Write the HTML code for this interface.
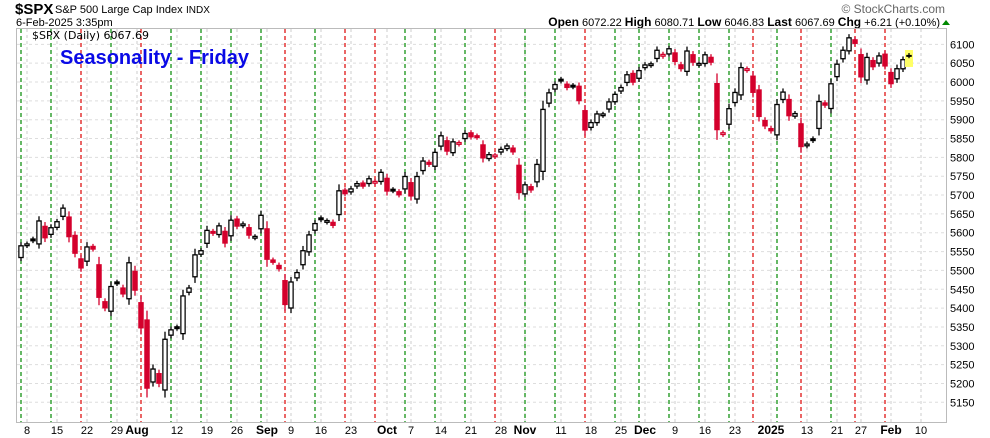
<!DOCTYPE html>
<html><head><meta charset="utf-8">
<style>
body{margin:0;background:#fff;width:990px;height:438px;overflow:hidden;font-family:"Liberation Sans",sans-serif}
svg{position:absolute;left:0;top:0}
</style></head><body>
<svg id="s" width="990" height="438" xmlns="http://www.w3.org/2000/svg" font-family="Liberation Sans, sans-serif">
<text x="15" y="14" font-size="15" font-weight="bold">$SPX</text>
<text x="55" y="13" font-size="11">S&amp;P 500 Large Cap Index</text>
<text x="186" y="13" font-size="10">INDX</text>
<text x="16" y="26" font-size="11">6-Feb-2025 3:35pm</text>
<text x="945" y="13" font-size="12" fill="#666" text-anchor="end">© StockCharts.com</text>
<text x="940" y="26" font-size="11" text-anchor="end"><tspan font-weight="bold" font-size="12">Open</tspan> 6072.22 <tspan font-weight="bold" font-size="12">High</tspan> 6080.71 <tspan font-weight="bold" font-size="12">Low</tspan> 6046.83 <tspan font-weight="bold" font-size="12">Last</tspan> 6067.69 <tspan font-weight="bold" font-size="12">Chg</tspan> +6.21 (+0.10%)</text>
<polygon points="942,25 946,20 950,25" fill="#080"/>
<rect x="16.5" y="28.5" width="930" height="394" fill="#fff" stroke="#bbb"/>
<g id="grid"></g><g id="c"></g>
<text x="32" y="39" font-size="11" font-family="DejaVu Sans, sans-serif">$SPX (Daily) 6067.69</text>
<text x="60" y="64" font-size="20" font-weight="bold" fill="#0a0ae6">Seasonality - Friday</text>
<g id="ax" font-size="11"></g>
</svg>
<script>
var NS="http://www.w3.org/2000/svg";
function el(p,t,a,txt){var e=document.createElementNS(NS,t);for(var k in a)e.setAttribute(k,a[k]);if(txt)e.textContent=txt;document.getElementById(p).appendChild(e);return e;}
function Y(p){return 402.3-(p-5150)*0.3768;}
for(var p=5150;p<=6100;p+=50){var y=Y(p);el('grid','line',{x1:17,x2:946,y1:y,y2:y,stroke:'#ddd','stroke-dasharray':'3,3'});el('ax','text',{x:950,y:y+4},String(p));}
var L=[[27,'8'],[57,'15'],[87,'22'],[117,'29'],[137,'Aug',1],[177,'12'],[207,'19'],[237,'26'],[267,'Sep',1],[291,'9'],[321,'16'],[351,'23'],[387,'Oct',1],[411,'7'],[441,'14'],[471,'21'],[501,'28'],[525,'Nov',1],[561,'11'],[591,'18'],[621,'25'],[645,'Dec',1],[675,'9'],[705,'16'],[735,'23'],[771,'2025',1],[807,'13'],[837,'21'],[861,'27'],[891,'Feb',1],[921,'10']];
L.forEach(function(l){var x=l[0],t=l[1];
 el('grid','line',{x1:x,x2:x,y1:29,y2:422,stroke:'#ccc','stroke-dasharray':'3,3'});
 el('ax','text',{x:x,y:434,'text-anchor':'middle','font-weight':l[2]?'bold':'normal','font-size':l[2]?12:11},t);});
var F=[[21,'g'],[51,'g'],[81,'r'],[111,'g'],[141,'r'],[171,'g'],[201,'g'],[231,'g'],[261,'g'],[285,'r'],[315,'g'],[345,'r'],[375,'r'],[405,'g'],[435,'g'],[465,'g'],[495,'r'],[525,'g'],[555,'g'],[585,'r'],[615,'g'],[639,'g'],[669,'g'],[699,'g'],[729,'g'],[753,'r'],[777,'g'],[801,'r'],[831,'g'],[855,'r'],[885,'r']];
F.forEach(function(f){el('grid','line',{x1:f[0],x2:f[0],y1:29,y2:422,stroke:f[1]=='g'?'#080':'#d00','stroke-dasharray':'4,3','stroke-width':1.2});});
var C=[5537,5567,5572,5577,5633,5585,5615,5631,5667,5588,5544,5505,5564,5555,5427,5399,5459,5463,5436,5522,5446,5346,5186,5240,5199,5319,5344,5344,5434,5455,5543,5554,5608,5597,5620,5571,5635,5616,5625,5592,5592,5648,5528,5520,5503,5408,5471,5496,5554,5596,5626,5633,5634,5618,5713,5702,5718,5732,5722,5745,5738,5762,5709,5709,5699,5751,5696,5751,5792,5780,5815,5859,5815,5843,5841,5865,5853,5851,5797,5809,5808,5823,5832,5813,5705,5729,5712,5783,5929,5973,5995,6001,5984,5985,5949,5871,5894,5917,5917,5949,5969,5987,6021,5998,6032,6047,6050,6086,6075,6090,6053,6034,6084,6051,6051,6074,6051,5872,5867,5931,5974,6040,6037,5971,5907,5882,5869,5942,5975,5909,5918,5827,5837,5843,5950,5937,5997,6049,6086,6119,6101,6012,6067,6039,6071,6041,5994,6037,6061,6068];
var x0=909-6*(C.length-1);
var prev=5509;
for(var i=0;i<C.length;i++){
 var c=C[i],x=x0+6*i,d=c-prev;
 var o=(i%3==1)?prev-d*0.15:prev+d*0.3;
 if(Math.abs(c-o)<8) o=c+(i%2?8:-8);
 if(i==C.length-1)o=6072;
 var hi=Math.max(o,c)+4+Math.abs(d)*0.12,lo=Math.min(o,c)-4-Math.abs(d)*0.12;
 var col=c<prev?'#d4002c':'#000';
 if(i==C.length-1){el('c','rect',{x:x-4,y:Y(6085),width:8,height:Y(6040)-Y(6085),fill:'#ffff66'});}
 if(x<17){prev=c;continue;}
 el('c','line',{x1:x,x2:x,y1:Y(hi),y2:Y(lo),stroke:col,'stroke-width':1.3});
 var yt=Y(Math.max(o,c)),yb=Y(Math.min(o,c));
 if(yb-yt<2){yb=yt+2;}
 el('c','line',{x1:x,x2:x,y1:yt,y2:yb,stroke:col,'stroke-width':5.5});
 if(c>o && yb-yt>3){el('c','line',{x1:x,x2:x,y1:yt+1.3,y2:yb-1.3,stroke:'#fff','stroke-width':3});}
 prev=c;
}
</script>
</body></html>
